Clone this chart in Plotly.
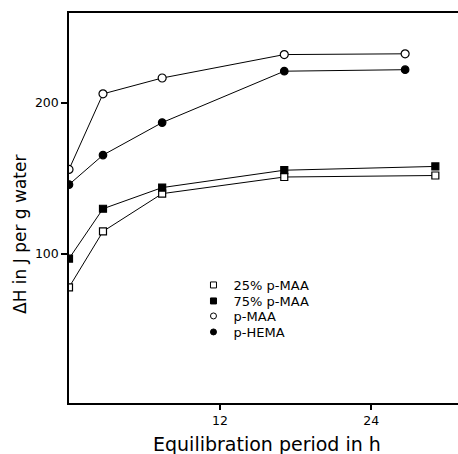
import plotly.graph_objects as go

# Equilibration period (h)
hours = [0, 2.7, 7.4, 17.1, 26.7]
hours_long = [0, 2.7, 7.4, 17.1, 29.1]

# Delta H in J per g water
p25_maa = [78, 115, 140, 151, 152]
p75_maa = [97, 130, 144, 155.5, 158]
p_maa = [156, 206, 216.5, 232, 232.5]
p_hema = [146, 165.5, 187, 221, 222]

series_names = ["25% p-MAA", "75% p-MAA", "p-MAA", "p-HEMA"]
x_ticks = [12, 24]
y_ticks = [100, 200]
x_title = "Equilibration period in h"
y_title = "ΔH in J per g water"

FONT = "DejaVu Sans"

fig = go.Figure()

specs = [
    (hours_long, p25_maa, "square", "white", 7),
    (hours_long, p75_maa, "square", "black", 7),
    (hours, p_maa, "circle", "white", 8),
    (hours, p_hema, "circle", "black", 7.5),
]

for (xs, ys, sym, fill, sz), name in zip(specs, series_names):
    fig.add_trace(go.Scatter(
        x=xs, y=ys, mode="lines+markers", showlegend=False,
        line=dict(color="black", width=1),
        marker=dict(symbol=sym, size=sz, color=fill,
                    line=dict(color="black", width=1.2)),
    ))

legend_ids = ["legend", "legend2", "legend3", "legend4"]
for (xs, ys, sym, fill, sz), name, lid in zip(specs, series_names, legend_ids):
    fig.add_trace(go.Scatter(
        x=[None], y=[None], mode="markers", name=name, legend=lid,
        marker=dict(symbol=sym, size=6, color=fill,
                    line=dict(color="black", width=1)),
    ))

plot_left, plot_right = 69, 458
plot_top, plot_bottom = 13, 403
w = plot_right - plot_left
h = plot_bottom - plot_top
row_px = [285, 301, 316, 332]

fig.update_layout(
    width=458, height=454,
    margin=dict(l=plot_left, r=458 - plot_right, t=plot_top, b=454 - plot_bottom),
    paper_bgcolor="white", plot_bgcolor="white",
    font=dict(family=FONT, color="black"),
    xaxis=dict(
        range=[0, 30.9], tickvals=x_ticks, ticks="outside", ticklen=5,
        tickwidth=1.5, tickcolor="black", showgrid=False, zeroline=False,
        showline=True, linecolor="black", linewidth=1.5, mirror=True,
        tickfont=dict(size=12.5),
    ),
    yaxis=dict(
        range=[1.5, 259.5], tickvals=y_ticks, ticks="outside", ticklen=6,
        tickwidth=1.5, tickcolor="black", showgrid=False, zeroline=False,
        showline=True, linecolor="black", linewidth=1.5,
        tickfont=dict(size=12.5),
    ),
    annotations=[
        dict(text=x_title, xref="paper", yref="paper",
             x=(266.5 - plot_left) / w, y=(plot_bottom - 444) / h,
             xanchor="center", yanchor="middle", showarrow=False,
             font=dict(size=19, family=FONT)),
        dict(text=y_title, xref="paper", yref="paper", textangle=-90,
             x=(20 - plot_left) / w, y=(plot_bottom - 235) / h,
             xanchor="center", yanchor="middle", showarrow=False,
             font=dict(size=17, family=FONT)),
    ],
)

for lid, ypx in zip(legend_ids, row_px):
    fig.update_layout({lid: dict(
        x=0.32, y=(plot_bottom - ypx) / h, xanchor="left", yanchor="middle",
        bgcolor="rgba(0,0,0,0)", font=dict(size=13, family=FONT),
        itemwidth=30, borderwidth=0,
    )})

fig.write_html("out.html")
